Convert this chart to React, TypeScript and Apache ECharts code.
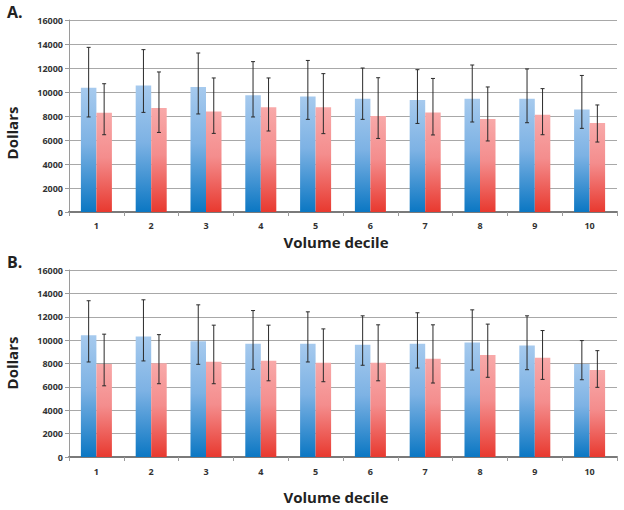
import React, { useEffect, useRef } from "react";
import * as echarts from "echarts";

const deciles = ["1", "2", "3", "4", "5", "6", "7", "8", "9", "10"];
const yMin = 0;
const yMax = 16000;
const yStep = 2000;

// Panel A
const aBlue = [10350, 10550, 10420, 9720, 9630, 9440, 9330, 9440, 9440, 8550];
const aBlueHigh = [13720, 13530, 13250, 12530, 12630, 12000, 11860, 12250, 11920, 11380];
const aBlueLow = [7920, 8300, 8170, 7920, 7720, 7720, 7380, 7500, 7440, 6970];
const aRed = [8280, 8670, 8380, 8720, 8720, 8000, 8300, 7750, 8110, 7420];
const aRedHigh = [10690, 11670, 11170, 11170, 11530, 11190, 11130, 10420, 10280, 8920];
const aRedLow = [6440, 6630, 6550, 6750, 6530, 6130, 6420, 5920, 6440, 5830];

// Panel B
const bBlue = [10420, 10300, 9900, 9700, 9700, 9610, 9700, 9790, 9530, 7960];
const bBlueHigh = [13370, 13450, 13020, 12530, 12420, 12080, 12340, 12590, 12080, 9960];
const bBlueLow = [8130, 8220, 7930, 7500, 8130, 7850, 7610, 7440, 7470, 6610];
const bRed = [7960, 8020, 8160, 8240, 8070, 8070, 8410, 8730, 8500, 7440];
const bRedHigh = [10510, 10470, 11280, 11280, 10960, 11310, 11310, 11370, 10820, 9100];
const bRedLow = [6090, 6270, 6270, 6520, 6440, 6520, 6330, 6820, 6640, 5960];

const BAR_FRAC = 0.283;
const FONT = "'Open Sans', 'DejaVu Sans', sans-serif";

const blueGrad = () =>
  new echarts.graphic.LinearGradient(0, 0, 0, 1, [
    { offset: 0, color: "#a6caee" },
    { offset: 0.45, color: "#7db2e4" },
    { offset: 1, color: "#0b77c3" },
  ]);
const redGrad = () =>
  new echarts.graphic.LinearGradient(0, 0, 0, 1, [
    { offset: 0, color: "#f8a9a9" },
    { offset: 0.45, color: "#f48d8d" },
    { offset: 1, color: "#e8392f" },
  ]);

function errSeries(idx: number, low: number[], high: number[], side: number) {
  return {
    type: "custom",
    xAxisIndex: idx,
    yAxisIndex: idx,
    z: 5,
    data: low.map((l, i) => [i, l, high[i]]),
    encode: { x: 0, y: [1, 2] },
    renderItem: (params: any, api: any) => {
      const i = api.value(0);
      const lo = api.coord([i, api.value(1)]);
      const hi = api.coord([i, api.value(2)]);
      const band = api.size([1, 0])[0];
      const x = lo[0] + side * band * BAR_FRAC * 0.5;
      const cap = 2;
      const style = { stroke: "#2a2a2a", lineWidth: 1, fill: null };
      return {
        type: "group",
        children: [
          { type: "line", shape: { x1: x, y1: lo[1], x2: x, y2: hi[1] }, style },
          { type: "line", shape: { x1: x - cap, y1: lo[1], x2: x + cap, y2: lo[1] }, style },
          { type: "line", shape: { x1: x - cap, y1: hi[1], x2: x + cap, y2: hi[1] }, style },
        ],
      };
    },
  };
}

function barSeries(idx: number, data: number[], grad: any) {
  return {
    type: "bar",
    xAxisIndex: idx,
    yAxisIndex: idx,
    data,
    barWidth: BAR_FRAC * 100 + "%",
    barGap: "0%",
    itemStyle: { color: grad },
  };
}

function xAxis(idx: number, margin: number) {
  return {
    type: "category",
    gridIndex: idx,
    data: deciles,
    boundaryGap: true,
    axisLine: { show: true, lineStyle: { color: "#7a7a7a", width: 2 } },
    axisTick: { show: true, length: 4, lineStyle: { color: "#9a9a9a" } },
    axisLabel: { color: "#333", fontSize: 9, fontWeight: "bold", fontFamily: FONT, margin },
    splitLine: { show: false },
  };
}

function yAxis(idx: number) {
  return {
    type: "value",
    gridIndex: idx,
    min: yMin,
    max: yMax,
    interval: yStep,
    axisLine: { show: true, lineStyle: { color: "#9a9a9a" } },
    axisTick: { show: true, length: 4, lineStyle: { color: "#9a9a9a" } },
    axisLabel: {
      color: "#333",
      fontSize: 9,
      fontWeight: "bold",
      fontFamily: FONT,
      margin: 6,
      formatter: (v: number) => String(v),
    },
    splitLine: { show: true, lineStyle: { color: "#a8a8a8", width: 1 } },
  };
}

export default function App() {
  const ref = useRef<HTMLDivElement>(null);
  useEffect(() => {
    if (!ref.current) return;
    const chart = echarts.init(ref.current, null, { renderer: "svg" });
    const titleStyle = (text: string, size: number) => ({
      text,
      fill: "#222",
      font: `bold ${size}px ${FONT}`,
    });
    chart.setOption({
      animation: false,
      backgroundColor: "#ffffff",
      grid: [
        { left: 69, top: 20, width: 548, height: 192 },
        { left: 69, top: 270, width: 548, height: 187 },
      ],
      xAxis: [xAxis(0, 9), xAxis(1, 10)],
      yAxis: [yAxis(0), yAxis(1)],
      series: [
        barSeries(0, aBlue, blueGrad()),
        barSeries(0, aRed, redGrad()),
        errSeries(0, aBlueLow, aBlueHigh, -1),
        errSeries(0, aRedLow, aRedHigh, 1),
        barSeries(1, bBlue, blueGrad()),
        barSeries(1, bRed, redGrad()),
        errSeries(1, bBlueLow, bBlueHigh, -1),
        errSeries(1, bRedLow, bRedHigh, 1),
      ],
      graphic: [
        { type: "text", left: 7, top: 4, style: titleStyle("A.", 16) },
        { type: "text", left: 7, top: 254, style: titleStyle("B.", 16) },
        {
          type: "text",
          x: 12,
          y: 133,
          rotation: Math.PI / 2,
          style: { ...titleStyle("Dollars", 15), align: "center", verticalAlign: "middle" },
        },
        {
          type: "text",
          x: 12,
          y: 363,
          rotation: Math.PI / 2,
          style: { ...titleStyle("Dollars", 15), align: "center", verticalAlign: "middle" },
        },
        {
          type: "text",
          x: 336,
          y: 242,
          style: { ...titleStyle("Volume decile", 15), align: "center", verticalAlign: "middle" },
        },
        {
          type: "text",
          x: 336,
          y: 497,
          style: { ...titleStyle("Volume decile", 15), align: "center", verticalAlign: "middle" },
        },
      ],
    });
    return () => chart.dispose();
  }, []);
  return (
    <div
      ref={ref}
      style={{ position: "absolute", left: 0, top: 0, width: 624, height: 510 }}
    />
  );
}
